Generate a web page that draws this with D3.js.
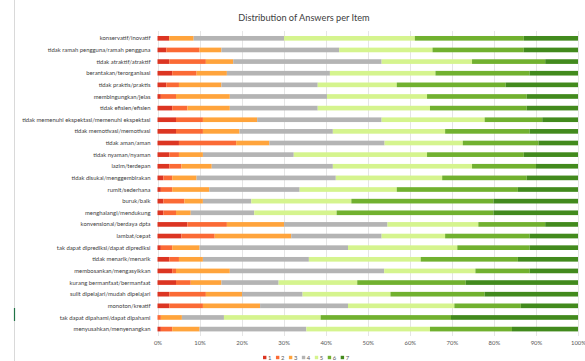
<!DOCTYPE html>
<html>
<head>
<meta charset="utf-8">
<script src="https://cdn.jsdelivr.net/npm/d3@7"></script>
<style>
  html, body { margin: 0; padding: 0; background: #ffffff; }
  svg { display: block; }
  text { font-family: Lato, "Open Sans", sans-serif; }
</style>
</head>
<body>
<svg id="chart" width="585" height="361"></svg>
<script>
const categories = [
  "konservatif/inovatif",
  "tidak ramah pengguna/ramah pengguna",
  "tidak atraktif/atraktif",
  "berantakan/terorganisasi",
  "tidak praktis/praktis",
  "membingungkan/jelas",
  "tidak efisien/efisien",
  "tidak memenuhi ekspektasi/memenuhi ekspektasi",
  "tidak memotivasi/memotivasi",
  "tidak aman/aman",
  "tidak nyaman/nyaman",
  "lazim/terdepan",
  "tidak disukai/menggembirakan",
  "rumit/sederhana",
  "buruk/baik",
  "menghalangi/mendukung",
  "konvensional/berdaya dpta",
  "lambat/cepat",
  "tak dapat diprediksi/dapat diprediksi",
  "tidak menarik/menarik",
  "membosankan/mengasyikkan",
  "kurang bermanfaat/bermanfaat",
  "sulit dipelajari/mudah dipelajari",
  "monoton/kreatif",
  "tak dapat dipahami/dapat dipahami",
  "menyusahkan/menyenangkan"
];

const seriesKeys = ["1", "2", "3", "4", "5", "6", "7"];

// percentage of answers per scale point, one array per series (same order as categories)
const s1 = [2.8, 2.1, 2.8, 3.5, 2.1, 0.8, 3.5, 4.4, 4.4, 5.1, 2.8, 2.8, 1.4, 0.8, 1.4, 1.4, 7.1, 5.7, 0.8, 2.8, 3.5, 4.4, 2.8, 2.8, 0.0, 0.8];
const s2 = [0.0, 7.9, 8.7, 5.8, 3.0, 3.6, 3.6, 6.4, 6.4, 13.6, 2.3, 2.9, 2.1, 2.7, 5.0, 3.0, 9.4, 7.9, 2.7, 2.3, 0.9, 3.5, 8.7, 8.0, 0.8, 2.7];
const s3 = [5.8, 5.2, 6.5, 7.2, 10.1, 12.8, 10.1, 12.9, 8.7, 7.9, 5.7, 7.2, 5.8, 8.8, 4.4, 3.5, 13.6, 18.2, 6.5, 5.7, 12.8, 7.3, 8.6, 13.6, 5.0, 6.5];
const s4 = [21.5, 28.0, 35.3, 24.5, 22.9, 23.1, 20.9, 29.6, 22.2, 27.4, 21.6, 28.8, 33.1, 21.5, 11.5, 15.1, 24.6, 21.5, 35.3, 25.2, 36.7, 13.6, 14.4, 20.9, 10.0, 25.4];
const s5 = [31.1, 22.2, 21.5, 25.1, 18.8, 23.8, 26.7, 24.5, 26.7, 18.6, 31.7, 33.1, 25.3, 23.1, 23.8, 19.6, 21.6, 15.1, 26.0, 26.6, 21.7, 18.7, 20.9, 25.3, 23.0, 29.4];
const s6 = [25.9, 21.7, 17.4, 22.4, 25.9, 23.7, 23.0, 13.7, 20.1, 18.0, 23.0, 15.2, 20.1, 28.8, 33.8, 37.3, 15.9, 20.1, 17.2, 23.1, 12.9, 25.8, 22.4, 15.8, 31.0, 19.5];
const s7 = [12.9, 12.9, 7.8, 11.5, 17.2, 12.2, 12.2, 8.5, 11.5, 9.4, 12.9, 10.0, 12.2, 14.3, 20.1, 20.1, 7.8, 11.5, 11.5, 14.3, 11.5, 26.7, 22.2, 13.6, 30.2, 15.7];

const xTicks = [0, 0.1, 0.2, 0.3, 0.4, 0.5, 0.6, 0.7, 0.8, 0.9, 1.0];
const titleText = "Distribution of Answers per Item";

const colors = ["#dc3522", "#fb6a35", "#ffa43c", "#b4b4b4", "#d5f48e", "#71b12f", "#428a1d"];

// build table for stacking (normalized to 100%)
const seriesArrays = [s1, s2, s3, s4, s5, s6, s7];
const table = categories.map((c, i) => {
  const row = { cat: c };
  const total = d3.sum(seriesArrays, s => s[i]);
  seriesKeys.forEach((k, j) => { row[k] = seriesArrays[j][i] / total; });
  return row;
});
const stacked = d3.stack().keys(seriesKeys)(table);

const svg = d3.select("#chart");
const W = 585, H = 361;

// outer frame artifacts
svg.append("line").attr("x1", 14.5).attr("x2", 14.5).attr("y1", 0).attr("y2", H)
  .attr("stroke", "#d9d9d9").attr("stroke-width", 1);
svg.append("line").attr("x1", 14.5).attr("x2", 14.5).attr("y1", 308).attr("y2", 321)
  .attr("stroke", "#217346").attr("stroke-width", 1.2);

const x = d3.scaleLinear().domain([0, 1]).range([157.5, 578]);
const y = d3.scaleBand().domain(categories).range([32.5, 334.9]).paddingInner(0.6).paddingOuter(0.3);

// gridlines
svg.append("g").selectAll("line").data(xTicks).join("line")
  .attr("x1", d => Math.round(x(d)) + 0.5).attr("x2", d => Math.round(x(d)) + 0.5)
  .attr("y1", 31).attr("y2", 336)
  .attr("stroke", "#dedede").attr("stroke-width", 0.8);

// bars
svg.append("g").selectAll("g").data(stacked).join("g")
  .attr("fill", (d, i) => colors[i])
  .selectAll("rect").data(d => d).join("rect")
  .attr("x", d => x(d[0]))
  .attr("width", d => Math.max(0, x(d[1]) - x(d[0])))
  .attr("y", d => y(d.data.cat))
  .attr("height", y.bandwidth());

// category axis labels
svg.append("g").selectAll("text").data(categories).join("text")
  .attr("x", 150.5)
  .attr("y", d => y(d) + y.bandwidth() / 2)
  .attr("dy", "0.35em")
  .attr("text-anchor", "end")
  .attr("font-size", 5.9)
  .attr("fill", "#404040")
  .text(d => d);

// x axis tick labels
const xAxis = d3.axisBottom(x).tickValues(xTicks).tickFormat(d3.format(".0%")).tickSize(0).tickPadding(0);
const gx = svg.append("g").attr("transform", "translate(0,341)").call(xAxis);
gx.select(".domain").remove();
gx.selectAll("text").attr("font-size", 5.9).attr("fill", "#595959")
  .attr("font-family", "Lato, 'Open Sans', sans-serif");

// title
svg.append("text").attr("x", 304).attr("y", 20.5).attr("text-anchor", "middle")
  .attr("font-size", 9.2).attr("fill", "#404040").text(titleText);

// legend
const legend = svg.append("g").selectAll("g").data(seriesKeys).join("g")
  .attr("transform", (d, i) => `translate(${263 + i * 12.95},357.5)`);
legend.append("rect").attr("x", 0).attr("y", -1.7).attr("width", 3.4).attr("height", 3.4)
  .attr("fill", (d, i) => colors[i]);
legend.append("text").attr("x", 5).attr("y", 0).attr("dy", "0.35em")
  .attr("font-size", 5.9).attr("fill", "#595959").text(d => d);
</script>
</body>
</html>
